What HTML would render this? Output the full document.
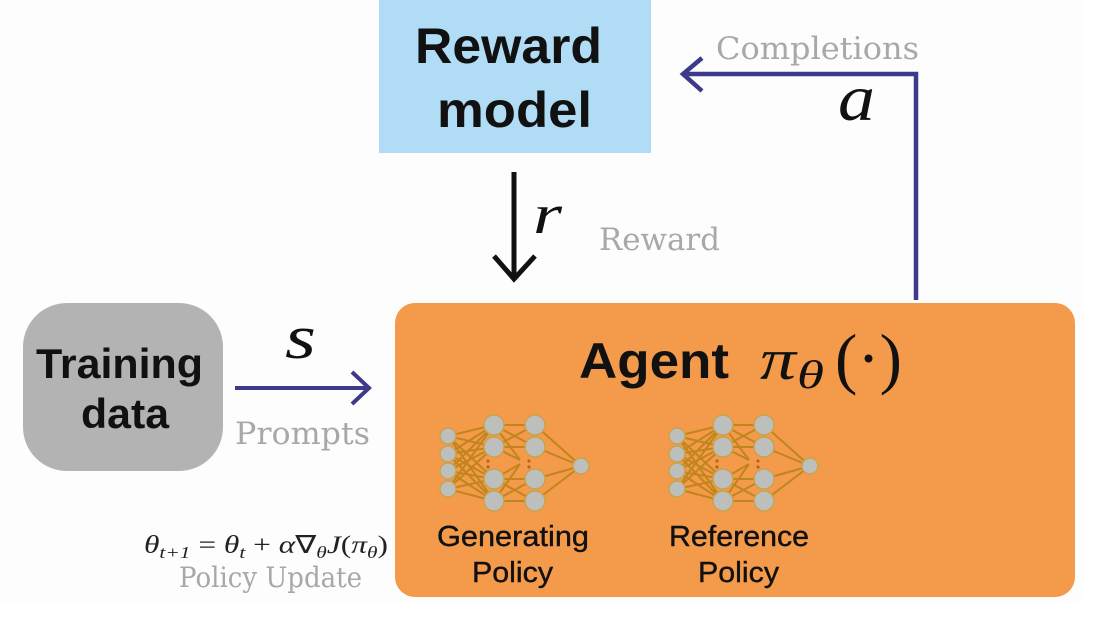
<!DOCTYPE html>
<html>
<head>
<meta charset="utf-8">
<style>
html,body{margin:0;padding:0;background:#fff;}
body{width:1101px;height:620px;overflow:hidden;}
svg{display:block;}
.sans{font-family:"Liberation Sans",sans-serif;}
.serif{font-family:"Liberation Serif",serif;}
.gray{font-family:"DejaVu Serif",serif;fill:#a8a8a8;font-size:31px;}
</style>
</head>
<body>
<svg width="1101" height="620" viewBox="0 0 1101 620" xmlns="http://www.w3.org/2000/svg">
<defs>
<g id="net">
  <g stroke="#c0851c" stroke-width="2" fill="none">
    <path d="M0 0L46 -11M0 0L46 11M0 0L46 43M0 0L46 65M0 18L46 -11M0 18L46 11M0 18L46 43M0 18L46 65M0 35L46 -11M0 35L46 11M0 35L46 43M0 35L46 65M0 53L46 -11M0 53L46 11M0 53L46 43M0 53L46 65"/>
    <path d="M46 -11L87 -11M46 -11L87 11M46 -11L72 24M46 11L87 -11M46 11L87 11M46 11L72 24M46 43L87 43M46 43L72 28M46 43L87 65M46 65L87 43M46 65L87 65M46 65L72 28"/>
    <path d="M87 -11L133 30M87 11L133 30M87 43L133 30M87 65L133 30"/>
  </g>
  <g fill="#bdbfbd" stroke="#c9a24d" stroke-width="1.4">
    <circle cx="0" cy="0" r="8"/><circle cx="0" cy="18" r="8"/><circle cx="0" cy="35" r="8"/><circle cx="0" cy="53" r="8"/>
    <circle cx="46" cy="-11" r="10"/><circle cx="46" cy="11" r="10"/><circle cx="46" cy="43" r="10"/><circle cx="46" cy="65" r="10"/>
    <circle cx="87" cy="-11" r="10"/><circle cx="87" cy="11" r="10"/><circle cx="87" cy="43" r="10"/><circle cx="87" cy="65" r="10"/>
    <circle cx="133" cy="30" r="8"/>
  </g>
  <g fill="#b5651d">
    <circle cx="40" cy="25" r="1.6"/><circle cx="40" cy="31" r="1.6"/>
    <circle cx="81" cy="25" r="1.6"/><circle cx="81" cy="31" r="1.6"/>
  </g>
</g>
</defs>

<rect x="0" y="0" width="1084" height="603" fill="#fdfdfd"/>

<!-- Reward model -->
<rect x="379" y="0" width="272" height="153" fill="#b0dcf5"/>
<text class="sans" x="415" y="63" font-size="50" font-weight="700" fill="#111" textLength="187" lengthAdjust="spacingAndGlyphs">Reward</text>
<text class="sans" x="437" y="127" font-size="50" font-weight="700" fill="#111" textLength="155" lengthAdjust="spacingAndGlyphs">model</text>

<!-- Completions arrow -->
<text class="gray" x="716" y="59" textLength="203" lengthAdjust="spacingAndGlyphs">Completions</text>
<path d="M916 300V74H684" fill="none" stroke="#3d3a8c" stroke-width="4.5"/>
<path d="M702 58L683 74L702 91" fill="none" stroke="#3d3a8c" stroke-width="4.5"/>
<text class="serif" x="838" y="120" font-size="66" font-style="italic" fill="#111" textLength="37" lengthAdjust="spacingAndGlyphs">a</text>

<!-- Reward arrow -->
<path d="M514 172V278" fill="none" stroke="#111" stroke-width="5"/>
<path d="M494 256L514 279L535 256" fill="none" stroke="#111" stroke-width="5"/>
<text class="serif" x="533" y="233" font-size="56" font-style="italic" fill="#111" textLength="29" lengthAdjust="spacingAndGlyphs">r</text>
<text class="gray" x="599" y="250" textLength="121" lengthAdjust="spacingAndGlyphs">Reward</text>

<!-- Training data -->
<rect x="23" y="303" width="200" height="168" rx="44" fill="#b3b3b3"/>
<text class="sans" x="36" y="378" font-size="42" font-weight="700" fill="#111" textLength="167" lengthAdjust="spacingAndGlyphs">Training</text>
<text class="sans" x="81" y="428" font-size="42" font-weight="700" fill="#111" textLength="88" lengthAdjust="spacingAndGlyphs">data</text>

<!-- s arrow -->
<text class="serif" x="285" y="358" font-size="62" font-style="italic" fill="#111" textLength="31" lengthAdjust="spacingAndGlyphs">s</text>
<path d="M235 388H368" fill="none" stroke="#3d3a8c" stroke-width="4"/>
<path d="M352 372L369 388L352 404" fill="none" stroke="#3d3a8c" stroke-width="4"/>
<text class="gray" x="235" y="444" textLength="135" lengthAdjust="spacingAndGlyphs">Prompts</text>

<!-- Agent -->
<rect x="395" y="303" width="680" height="294" rx="20" fill="#f49a4b"/>
<text class="sans" x="579" y="378" font-size="50" font-weight="700" fill="#111" textLength="150" lengthAdjust="spacingAndGlyphs">Agent</text>
<text class="serif" x="760" y="379" font-size="58" font-style="italic" fill="#111" textLength="36" lengthAdjust="spacingAndGlyphs">π</text>
<text class="serif" x="797" y="388" font-size="40" font-style="italic" fill="#111" textLength="27" lengthAdjust="spacingAndGlyphs">θ</text>
<text class="serif" x="835" y="381" font-size="68" fill="#111" textLength="67" lengthAdjust="spacingAndGlyphs">(·)</text>

<use href="#net" x="448" y="436"/>
<use href="#net" x="677" y="436"/>

<g stroke="#111" stroke-width="0.4">
<text class="sans" x="437" y="546" font-size="29" fill="#111" textLength="152" lengthAdjust="spacingAndGlyphs">Generating</text>
<text class="sans" x="472" y="582" font-size="29" fill="#111" textLength="81" lengthAdjust="spacingAndGlyphs">Policy</text>
<text class="sans" x="669" y="546" font-size="29" fill="#111" textLength="140" lengthAdjust="spacingAndGlyphs">Reference</text>
<text class="sans" x="698" y="582" font-size="29" fill="#111" textLength="81" lengthAdjust="spacingAndGlyphs">Policy</text>
</g>

<!-- Policy update -->
<text class="serif" x="144" y="553" font-size="25" fill="#222" textLength="244" lengthAdjust="spacingAndGlyphs"><tspan font-style="italic">θ</tspan><tspan font-size="17" dy="5" font-style="italic">t+1</tspan><tspan dy="-5"> = </tspan><tspan font-style="italic">θ</tspan><tspan font-size="17" dy="5" font-style="italic">t</tspan><tspan dy="-5"> + </tspan><tspan font-style="italic">α</tspan><tspan>∇</tspan><tspan font-size="17" dy="5" font-style="italic">θ</tspan><tspan dy="-5" font-style="italic">J</tspan><tspan>(</tspan><tspan font-style="italic">π</tspan><tspan font-size="17" dy="5" font-style="italic">θ</tspan><tspan dy="-5">)</tspan></text>
<text class="gray" x="179" y="587" style="font-size:28px" textLength="183" lengthAdjust="spacingAndGlyphs">Policy Update</text>
</svg>
</body>
</html>
